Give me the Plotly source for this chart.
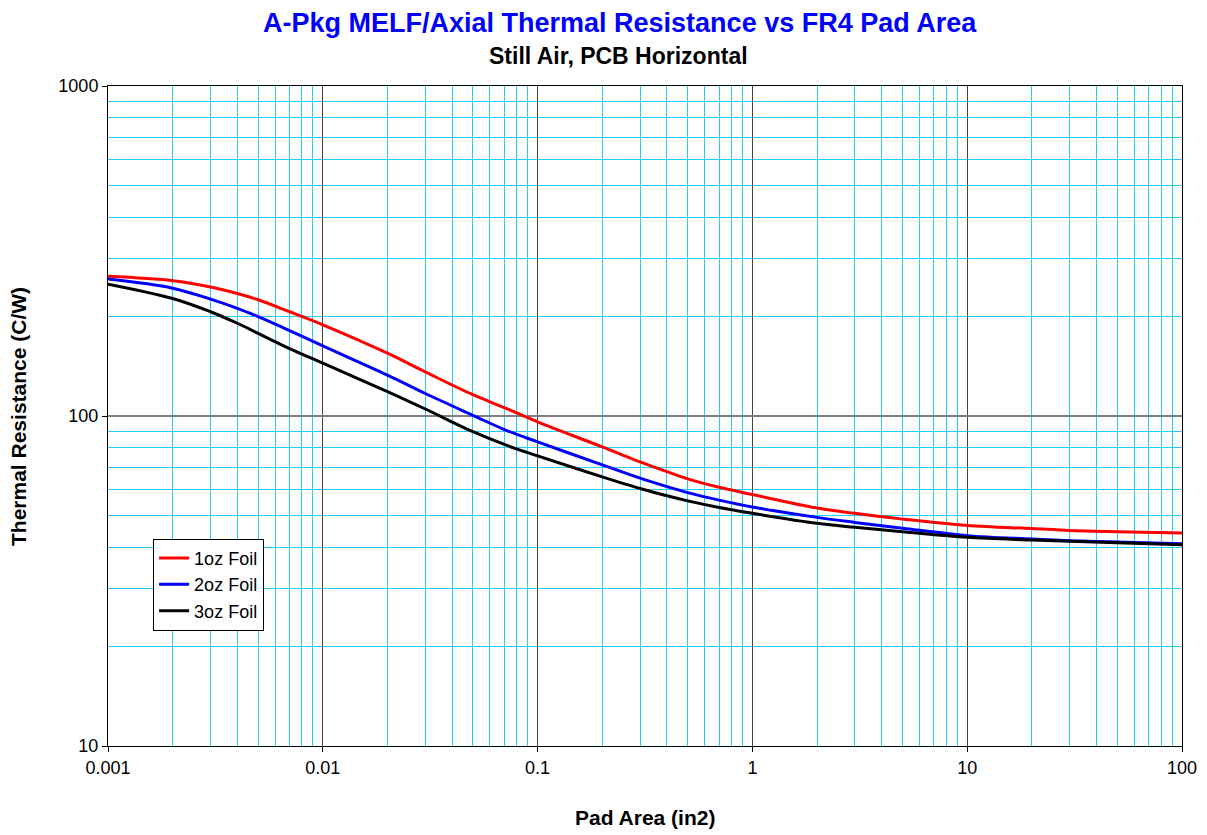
import plotly.graph_objects as go

pad_area = [0.001, 0.002, 0.003, 0.004, 0.005, 0.007, 0.01, 0.02, 0.03, 0.05,
            0.07, 0.1, 0.2, 0.3, 0.4, 0.5, 0.7, 1, 2, 3, 5, 10, 20, 30, 50, 100]
foil_1oz = [265, 257, 246, 235, 225, 207, 189, 155, 136, 116,
            106, 96, 80.6, 72.6, 67.8, 64.5, 60.8, 57.8, 52.6, 50.7, 48.7, 46.6, 45.6, 45, 44.6, 44.2]
foil_2oz = [260, 244, 226, 212, 200, 181.5, 163, 133, 117, 100.5,
            91, 83.5, 71.1, 64.8, 61.1, 58.6, 55.6, 53, 49.3, 47.6, 45.7, 43.4, 42.4, 41.9, 41.5, 41]
foil_3oz = [251, 227, 207, 191, 178, 160, 144.5, 118.6, 105, 89.6,
            82, 75.7, 65.4, 60.3, 57.3, 55.3, 52.8, 50.7, 47.3, 46, 44.6, 42.9, 42.1, 41.7, 41.3, 40.7]

series_names = ["1oz Foil", "2oz Foil", "3oz Foil"]
series_colors = ["#ff0000", "#0000ff", "#000000"]

x_ticks = [0.001, 0.01, 0.1, 1, 10, 100]
x_ticktext = ["0.001", "0.01", "0.1", "1", "10", "100"]
y_ticks = [10, 100, 1000]
y_ticktext = ["10", "100", "1000"]

x_minor = [m * d for d in [0.001, 0.01, 0.1, 1, 10] for m in range(2, 10)]
y_minor = [m * d for d in [10, 100] for m in range(2, 10)]

FONT = "Arial, 'Liberation Sans', sans-serif"

fig = go.Figure()
for name, vals, col in zip(series_names, [foil_1oz, foil_2oz, foil_3oz], series_colors):
    fig.add_trace(go.Scatter(x=pad_area, y=vals, name=name, mode="lines",
                             line=dict(color=col, width=3, shape="spline", smoothing=1.0)))

fig.update_layout(
    width=1199, height=827,
    paper_bgcolor="white", plot_bgcolor="white",
    margin=dict(l=100, r=25, t=78, b=89, autoexpand=False),
    font=dict(family=FONT, size=18, color="black"),
    showlegend=True,
    legend=dict(x=0.042, y=0.314, xanchor="left", yanchor="top",
                bgcolor="white", bordercolor="#000000", borderwidth=1,
                font=dict(family=FONT, size=18), itemwidth=30),
    annotations=[
        dict(text="<b>A-Pkg MELF/Axial Thermal Resistance vs FR4 Pad Area</b>",
             xref="paper", yref="paper", x=0.477, y=1.096, xanchor="center", yanchor="middle",
             showarrow=False, font=dict(family=FONT, size=27, color="#0000ff")),
        dict(text="<b>Still Air, PCB Horizontal</b>",
             xref="paper", yref="paper", x=0.475, y=1.046, xanchor="center", yanchor="middle",
             showarrow=False, font=dict(family=FONT, size=23, color="black")),
        dict(text="<b>Pad Area (in2)</b>",
             xref="paper", yref="paper", x=0.5, y=-0.109, xanchor="center", yanchor="middle",
             showarrow=False, font=dict(family=FONT, size=21, color="black")),
        dict(text="<b>Thermal Resistance (C/W)</b>",
             xref="paper", yref="paper", x=-0.0838, y=0.5, xanchor="center", yanchor="middle",
             textangle=-90, showarrow=False, font=dict(family=FONT, size=21, color="black")),
    ],
)

fig.update_xaxes(
    type="log", range=[-3, 2], automargin=False,
    tickvals=x_ticks, ticktext=x_ticktext,
    showgrid=True, gridcolor="#444444", gridwidth=1,
    minor=dict(tickvals=x_minor, showgrid=True, gridcolor="#22ccff", gridwidth=1, ticks=""),
    showline=True, linecolor="black", linewidth=1, mirror=True,
    ticks="outside", ticklen=5, tickcolor="black",
    tickfont=dict(family=FONT, size=18),
    zeroline=False,
)
fig.update_yaxes(
    type="log", range=[1, 3], automargin=False,
    tickvals=y_ticks, ticktext=y_ticktext,
    showgrid=True, gridcolor="#808080", gridwidth=2,
    minor=dict(tickvals=y_minor, showgrid=True, gridcolor="#22ccff", gridwidth=1, ticks=""),
    showline=True, linecolor="black", linewidth=1, mirror=True,
    ticks="outside", ticklen=5, tickcolor="black",
    tickfont=dict(family=FONT, size=18),
    zeroline=False,
)

fig.write_html("out.html")
